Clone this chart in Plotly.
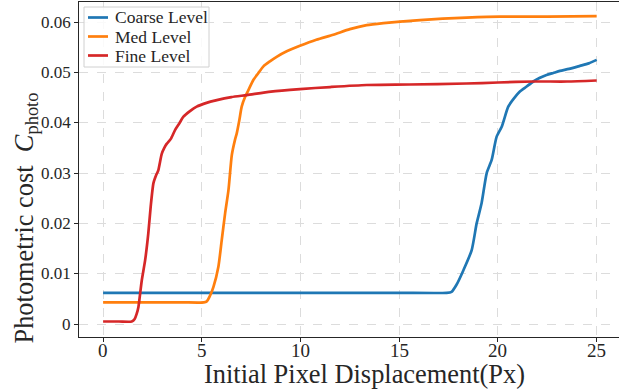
import plotly.graph_objects as go

# ---------------- data ----------------
coarse_x = [0, 5, 10, 15, 17.4, 17.65, 17.9, 18.25, 18.67, 18.92, 19.17, 19.43, 19.68, 19.93,
            20.19, 20.52, 20.8, 21.11, 21.45, 21.79, 22.1, 22.46, 22.8, 23.14, 23.6, 24.15, 24.6, 25]
coarse_y = [0.0062, 0.0062, 0.0062, 0.0062, 0.0062, 0.0064, 0.0078, 0.0107, 0.0147, 0.0200, 0.0240,
            0.0300, 0.0326, 0.0372, 0.0392, 0.0432, 0.0448, 0.0462, 0.0472, 0.0482, 0.0489, 0.0495,
            0.0499, 0.0503, 0.0507, 0.0513, 0.0518, 0.0525]

med_x = [0, 2, 4, 5.1, 5.25, 5.4, 5.59, 5.84, 6.01, 6.18, 6.35, 6.52, 6.68, 6.77, 6.9, 7.02, 7.2,
         7.36, 7.61, 7.85, 8.12, 8.45, 8.79, 9.3, 9.97, 10.8, 11.66, 12.5, 13.35, 14.2, 15.04, 16.05,
         17.2, 18.4, 20.1, 22.5, 25]
med_y = [0.0043, 0.0043, 0.0043, 0.0043, 0.0045, 0.0055, 0.0074, 0.0114, 0.0167, 0.0220, 0.0266,
         0.0336, 0.0366, 0.0379, 0.0405, 0.0432, 0.0452, 0.0465, 0.0485, 0.0498, 0.0512, 0.0522,
         0.0531, 0.0542, 0.0553, 0.0565, 0.0575, 0.0586, 0.0594, 0.0598, 0.0601, 0.0604, 0.0607,
         0.0609, 0.0611, 0.0611, 0.0612]

fine_x = [0, 0.8, 1.45, 1.6, 1.7, 1.79, 1.96, 2.13, 2.29, 2.41, 2.55, 2.68, 2.8, 2.97, 3.1, 3.22,
          3.43, 3.65, 3.85, 4.07, 4.4, 4.74, 5.2, 5.76, 6.5, 7.28, 8.5, 9.97, 11.5, 13.35, 15.5,
          18.4, 20.0, 21.8, 23.5, 25]
fine_y = [0.0005, 0.0005, 0.0005, 0.0010, 0.0020, 0.0034, 0.0087, 0.0127, 0.0180, 0.0233, 0.0280,
          0.0295, 0.0306, 0.0338, 0.0350, 0.0358, 0.0368, 0.0386, 0.0398, 0.0412, 0.0423, 0.0432,
          0.0439, 0.0445, 0.0451, 0.0455, 0.0462, 0.0467, 0.0471, 0.0475, 0.0476, 0.0478, 0.0480,
          0.0482, 0.0482, 0.0484]

series_names = ["Coarse Level", "Med Level", "Fine Level"]
series_colors = ["#1f77b4", "#ff7f0e", "#d62728"]

x_ticks = [0, 5, 10, 15, 20, 25]
x_tick_labels = ["0", "5", "10", "15", "20", "25"]
y_ticks = [0, 0.01, 0.02, 0.03, 0.04, 0.05, 0.06]
y_tick_labels = ["0", "0.01", "0.02", "0.03", "0.04", "0.05", "0.06"]

x_title = "Initial Pixel Displacement(Px)"
y_title = "Photometric cost  <i>C</i><sub>photo</sub>"

# ---------------- figure ----------------
FONT = "Liberation Serif, Times New Roman, serif"
INK = "#262626"
L, T, W, H = 79, 2, 540, 335   # plot area in pixels


def px(xp):
    return (xp - L) / W


def py(yp):
    return (T + H - yp) / H


fig = go.Figure()
for name, xs, ys, col in zip(series_names, [coarse_x, med_x, fine_x],
                             [coarse_y, med_y, fine_y], series_colors):
    fig.add_trace(go.Scatter(x=xs, y=ys, mode="lines", name=name, showlegend=False,
                             line=dict(color=col, width=2.7, shape="spline", smoothing=0.6)))

fig.update_layout(
    width=619, height=392,
    margin=dict(l=L, r=619 - L - W, t=T, b=392 - T - H),
    plot_bgcolor="white", paper_bgcolor="white",
    font=dict(family=FONT, color=INK),
    showlegend=False,
)
fig.update_xaxes(range=[-1.22, 26.13], tickvals=x_ticks, showticklabels=False,
                 showline=True, linecolor=INK, linewidth=1.3, mirror=True,
                 ticks="outside", ticklen=4, tickcolor=INK,
                 showgrid=True, gridcolor="#dcdcdc", griddash="dash", gridwidth=1,
                 zeroline=False)
fig.update_yaxes(range=[-0.00258, 0.0640], tickvals=y_ticks, showticklabels=False,
                 showline=True, linecolor=INK, linewidth=1.3,
                 ticks="outside", ticklen=4, tickcolor=INK,
                 showgrid=True, gridcolor="#dcdcdc", griddash="dash", gridwidth=1,
                 zeroline=False)

# tick labels placed on the axes' own scales
for v, lab in zip(x_ticks, x_tick_labels):
    fig.add_annotation(text=lab, xref="x", yref="paper", x=v, y=py(350),
                       xanchor="center", yanchor="middle", showarrow=False,
                       font=dict(family=FONT, size=19, color=INK))
for v, lab in zip(y_ticks, y_tick_labels):
    fig.add_annotation(text=lab, xref="paper", yref="y", x=px(72.5), y=v,
                       xanchor="right", yanchor="middle", showarrow=False,
                       font=dict(family=FONT, size=17, color=INK))

# axis titles
fig.add_annotation(text=x_title, xref="paper", yref="paper",
                   x=px(364), y=py(373.5), xanchor="center", yanchor="middle",
                   showarrow=False, font=dict(family=FONT, size=26.4, color=INK))
fig.add_annotation(text=y_title, xref="paper", yref="paper", textangle=-90,
                   x=px(25), y=py(346), xanchor="center", yanchor="bottom",
                   showarrow=False, font=dict(family=FONT, size=26.4, color=INK))

# legend (box, line samples, labels)
fig.add_shape(type="rect", xref="paper", yref="paper",
              x0=px(84), x1=px(209), y0=py(67), y1=py(7),
              fillcolor="rgba(255,255,255,0.85)", line=dict(color="#d0d0d0", width=1),
              layer="above")
for i, (name, col) in enumerate(zip(series_names, series_colors)):
    yrow = 17.5 + 19 * i
    fig.add_shape(type="line", xref="paper", yref="paper",
                  x0=px(88), x1=px(108), y0=py(yrow), y1=py(yrow),
                  line=dict(color=col, width=2.7), layer="above")
    fig.add_annotation(text=name, xref="paper", yref="paper",
                       x=px(113), y=py(yrow), xanchor="left", yanchor="middle",
                       showarrow=False, font=dict(family=FONT, size=17.5, color=INK))

fig.write_html("out.html")
